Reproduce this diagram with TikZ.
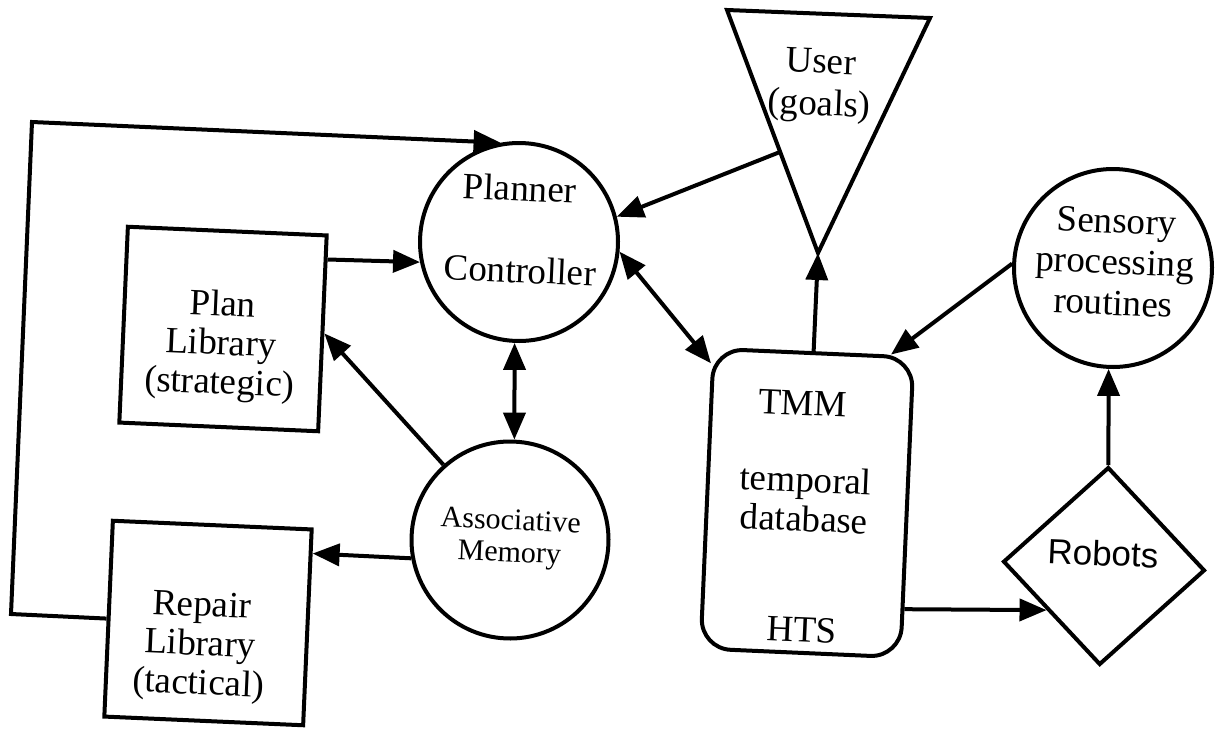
\documentclass[tikz,border=0pt]{standalone}
\usepackage{fontspec}
\setmainfont{Liberation Serif}
\newfontfamily\sansf{Liberation Sans}
\usetikzlibrary{shapes.geometric,arrows.meta,calc}
\begin{document}
\begin{tikzpicture}[x=1pt,y=-1pt,
  line width=4pt,
  every node/.style={rotate=-2.5},
  shp/.style={draw, inner sep=0pt},
  boxn/.style={shp, rectangle, minimum width=199pt, minimum height=196pt},
  circn/.style={shp, circle, minimum size=198pt},
  txt/.style={draw=none, inner sep=0pt, align=center, font=\fontsize{37}{39}\selectfont},
  arr/.style={-{Triangle[length=27pt,width=22pt]}},
  darr/.style={{Triangle[length=27pt,width=22pt]}-{Triangle[length=27pt,width=22pt]}}
]
\useasboundingbox (0,0) rectangle (1217,728);

% shapes
\node[boxn] (plan) at (223,329) {};
\node[boxn] (repair) at (208,623) {};
\node[circn] (planner) at (519,242) {};
\node[circn, minimum size=197pt] (assoc) at (510,540) {};
\node[shp, rectangle, rounded corners=30pt, minimum width=200pt, minimum height=300pt] (tmm) at (807,503) {};
\node[circn] (sensory) at (1113,268) {};
\node[shp, diamond, minimum width=202pt, minimum height=198pt] (robots) at (1104,566) {};

% user triangle
\coordinate (ul) at (727,10);
\coordinate (ur) at (930,18);
\coordinate (ua) at (818,253);
\draw[line join=miter] (ul) -- (ur) -- (ua) -- cycle;

% texts
\node[txt] (plannerT1) at (520,188) {Planner};
\node[txt] (plannerT2) at (520,270) {Controller};
\node[txt] (planT) at (221,346) {Plan\\Library\\(strategic)};
\node[txt] (repairT) at (200,647) {Repair\\Library\\(tactical)};
\node[txt, font=\fontsize{30}{32}\selectfont] (assocT) at (510,539) {Associative\\Memory};
\node[txt, font=\fontsize{37}{42}\selectfont] (userT) at (820,86) {User\\(goals)};
\node[txt] (tmmT1) at (803,403) {TMM};
\node[txt] (tmmT2) at (805,499) {temporal\\database};
\node[txt] (tmmT3) at (802,630) {HTS};
\node[txt, font=\fontsize{37}{41}\selectfont] (sensT) at (1115,262) {Sensory\\processing\\routines};
\node[txt, font=\sansf\fontsize{35}{36}\selectfont] (robT) at (1103,553) {Robots};

% connector points
\coordinate (fbB) at (11,614);
\coordinate (fbT) at (32,122);
\coordinate (planOut) at ($(plan.north east)!0.13!(plan.south east)$);
\coordinate (repIn) at ($(repair.north east)!0.13!(repair.south east)$);
\coordinate (userOut) at ($(ul)!0.584!(ua)$);
\coordinate (tmmOut) at ($(tmm.north east)!0.835!(tmm.south east)$);

% connectors
\draw[arr, line join=miter] (repair.west) -- (fbB) -- (fbT) -- (planner.103);
\draw[arr] (planOut) -- (planner.194);
\draw[arr] (userOut) -- (planner.17);
\draw[darr] (planner.-3) -- (tmm.127);
\draw[darr] (planner.south) -- (assoc.north);
\draw[arr] (assoc.134) -- (plan.east);
\draw[arr] (assoc.193) -- (repIn);
\draw[arr] (tmm.north) -- (ua);
\draw[arr] (sensory.west) -- (tmm.63);
\draw[arr] (tmmOut) -- (robots.220);
\draw[arr] (robots.north) -- (sensory.south);
\end{tikzpicture}
\end{document}
